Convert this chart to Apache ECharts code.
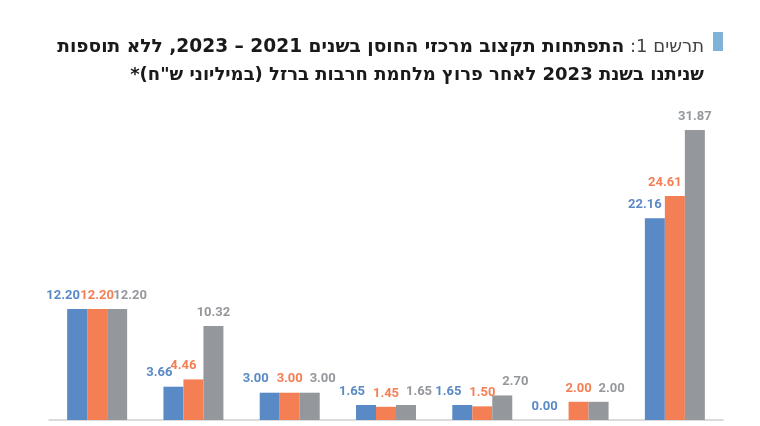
<!DOCTYPE html>
<html>
<head>
<meta charset="utf-8">
<script src="https://cdn.jsdelivr.net/npm/echarts@6/dist/echarts.min.js"></script>
<style>
  html, body { margin: 0; padding: 0; background: #fff; }
  #chart { width: 760px; height: 426px; }
</style>
</head>
<body>
<div id="chart" dir="rtl"></div>
<script>
// נתונים (במיליוני ש"ח)
var categories = ['1', '2', '3', '4', '5', '6', '7'];
var seriesNames = ['א', 'ב', 'ג'];
var blueValues = [12.20, 3.66, 3.00, 1.65, 1.65, 0.00, 22.16];
var orangeValues = [12.20, 4.46, 3.00, 1.45, 1.50, 2.00, 24.61];
var grayValues = [12.20, 10.32, 3.00, 1.65, 2.70, 2.00, 31.87];

var colors = ['#5a8ac6', '#f47f55', '#94989c'];
var allValues = [blueValues, orangeValues, grayValues];

// מזיז תוויות כדי שלא יתנגשו בתוויות או בעמודות השכנות
function labelShift(seriesIndex, dataIndex) {
    var own = allValues[seriesIndex][dataIndex];
    var mid = orangeValues[dataIndex];
    var right = seriesIndex < 2 ? allValues[seriesIndex + 1][dataIndex] : null;
    if (right !== null && right - own > 2) return -10;
    var near = Math.abs(own - mid) * 9.1 < 20;
    if (seriesIndex === 0 && near) return -14;
    if (seriesIndex === 2 && near) return 13;
    return 0;
}

var chart = echarts.init(document.getElementById('chart'));

var series = [];
for (var i = 0; i < allValues.length; i++) {
    series.push({
        name: seriesNames[i],
        type: 'bar',
        barWidth: 20,
        barGap: '0%',
        itemStyle: { color: colors[i] },
        label: {
            show: true,
            position: 'top',
            distance: 7,
            color: colors[i],
            fontFamily: 'Roboto, "Liberation Sans", sans-serif',
            fontWeight: 'bold',
            fontSize: 13,
            formatter: function(p) { return p.value.toFixed(2); }
        },
        labelLayout: function(params) {
            return { dx: labelShift(params.seriesIndex, params.dataIndex) };
        },
        data: allValues[i]
    });
}

chart.setOption({
    animation: false,
    title: {
        right: 51,
        top: 28,
        text: '{b|התפתחות תקצוב מרכזי החוסן בשנים 2021 – 2023, ללא תוספות}{r|תרשים 1: }\n{c|שניתנו בשנת 2023 לאחר פרוץ מלחמת חרבות ברזל (במיליוני ש"ח)*}',
        textAlign: 'left',
        textStyle: {
            align: 'right',
            rich: {
                b: {
                    fontFamily: '"DejaVu Sans", sans-serif',
                    fontWeight: 'bold',
                    fontSize: 18.6,
                    color: '#1a1a1a',
                    lineHeight: 28,
                    align: 'right'
                },
                c: {
                    fontFamily: '"DejaVu Sans", sans-serif',
                    fontWeight: 'bold',
                    fontSize: 18,
                    color: '#1a1a1a',
                    lineHeight: 28,
                    align: 'right'
                },
                r: {
                    fontFamily: '"DejaVu Sans", sans-serif',
                    fontWeight: 'normal',
                    fontSize: 18,
                    color: '#444',
                    lineHeight: 28,
                    align: 'right'
                }
            }
        }
    },
    graphic: [{
        type: 'rect',
        shape: { x: 713, y: 32, width: 10, height: 19 },
        style: { fill: '#7fb2d8' }
    }],
    grid: { left: 49, right: 37, top: 56, bottom: 6 },
    xAxis: {
        type: 'category',
        data: categories,
        axisLine: { show: true, lineStyle: { color: '#cfcfcf', width: 1.5 } },
        axisTick: { show: false },
        axisLabel: { show: false }
    },
    yAxis: {
        type: 'value',
        min: 0,
        max: 40,
        show: false,
        splitLine: { show: false }
    },
    series: series
});
</script>
</body>
</html>
